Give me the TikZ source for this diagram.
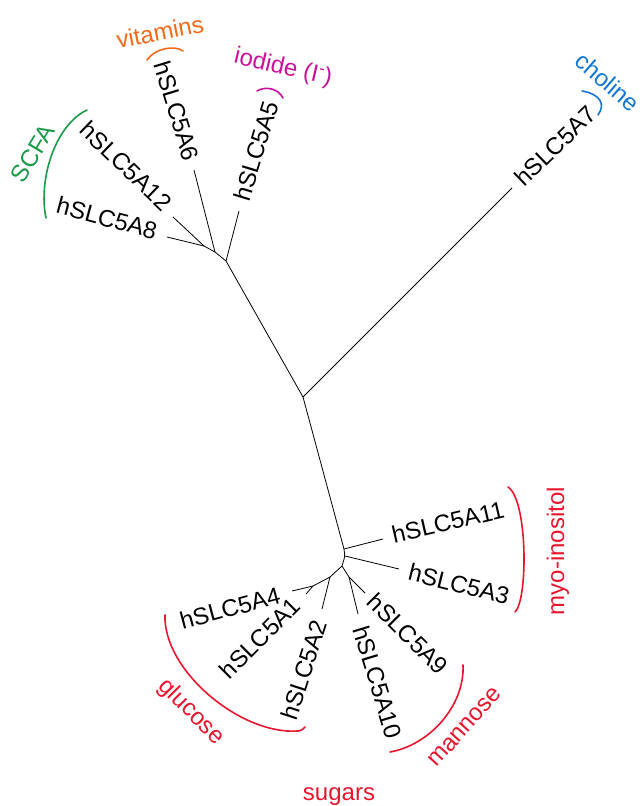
\documentclass[tikz,border=0pt]{standalone}
\usepackage{fontspec}
\setmainfont{Liberation Sans}
\definecolor{cOrange}{HTML}{F26B1D}
\definecolor{cMagenta}{HTML}{C8129B}
\definecolor{cBlue}{HTML}{1677D2}
\definecolor{cGreen}{HTML}{1A9A48}
\definecolor{cRed}{HTML}{E6162E}
\tikzset{
  branch/.style={draw=black, line width=0.8pt, line join=round},
  lbl/.style={font=\fontsize{24}{28}\selectfont, inner sep=0pt, anchor=center},
  grp/.style={font=\fontsize{24}{28}\selectfont, inner sep=0pt, anchor=center},
  brk/.style={line width=1.6pt, line cap=round}
}
\begin{document}
\begin{tikzpicture}[x=1pt,y=-1pt]
\useasboundingbox (0,0) rectangle (644,806);
% tree coordinates
\coordinate (C) at (303,397);
\coordinate (T7) at (512,188);
\coordinate (U) at (226,261);
\coordinate (T5) at (239,211);
\coordinate (N1) at (215,252);
\coordinate (T6) at (194,170);
\coordinate (N2) at (204,246);
\coordinate (T12) at (173,217);
\coordinate (T8) at (167,237);
\coordinate (L1) at (344,549);
\coordinate (T11) at (383,539);
\coordinate (L2) at (345,556);
\coordinate (T3) at (399,569);
\coordinate (L3) at (342,566);
\coordinate (N5) at (349,577);
\coordinate (T9) at (365,593);
\coordinate (T10) at (358,614);
\coordinate (N3) at (330,577);
\coordinate (T2) at (322,609);
\coordinate (N4) at (313,586);
\coordinate (T4) at (292,591);
\coordinate (T1) at (306,594);
% branches
\draw[branch] (C) -- (T7);
\draw[branch] (C) -- (U) -- (N1) -- (N2);
\draw[branch] (U) -- (T5);
\draw[branch] (N1) -- (T6);
\draw[branch] (N2) -- (T12);
\draw[branch] (N2) -- (T8);
\draw[branch, rounded corners=3pt] (C) -- (L1) -- (L2) -- (L3);
\draw[branch] (L1) -- (T11);
\draw[branch] (L2) -- (T3);
\draw[branch] (L3) -- (N5) -- (T10);
\draw[branch] (N5) -- (T9);
\draw[branch] (L3) -- (N3) -- (N4) -- (T4);
\draw[branch] (N3) -- (T2);
\draw[branch] (N4) -- (T1);
% leaf labels
\node[lbl, rotate=44] (A7) at (555,146) {hSLC5A7};
\node[lbl, rotate=73] (A5) at (256,151) {hSLC5A5};
\node[lbl, rotate=-73] (A6) at (177,111) {hSLC5A6};
\node[lbl, rotate=-44] (A12) at (126,166) {hSLC5A12};
\node[lbl, rotate=-15] (A8) at (107,218) {hSLC5A8};
\node[lbl, rotate=13] (A11) at (448,522) {hSLC5A11};
\node[lbl, rotate=-14] (A3) at (459,584) {hSLC5A3};
\node[lbl, rotate=-45] (A9) at (408,634) {hSLC5A9};
\node[lbl, rotate=-73] (A10) at (378,682) {hSLC5A10};
\node[lbl, rotate=72] (A2) at (304,670) {hSLC5A2};
\node[lbl, rotate=45] (A1) at (260,638) {hSLC5A1};
\node[lbl, rotate=15] (A4) at (230,608) {hSLC5A4};
% group labels
\node[grp, text=cOrange, rotate=11] (gvit) at (160,32) {vitamins};
\node[grp, text=cMagenta, rotate=-13] (giod) at (283,68) {iodide (I\textsuperscript{-})};
\node[grp, text=cBlue, rotate=-41] (gcho) at (608,82) {choline};
\node[grp, text=cGreen, rotate=59] (gscfa) at (33,153) {SCFA};
\node[grp, text=cRed, rotate=90] (gmyo) at (558,551) {myo-inositol};
\node[grp, text=cRed, rotate=48] (gman) at (465,727) {mannose};
\node[grp, text=cRed, rotate=-45] (gglu) at (191,712) {glucose};
\node[grp, text=cRed, anchor=base] (gsug) at (339,800) {sugars};
% brackets
\draw[brk, cOrange] (147,60) .. controls (155,48) and (175,45) .. (183,51);
\draw[brk, cMagenta] (257,91) .. controls (265,86) and (278,88) .. (283,98);
\draw[brk, cBlue] (582,91) .. controls (600,94) and (606,104) .. (598,115);
\draw[brk, cGreen] (87,110) .. controls (55,125) and (38,180) .. (46,218);
\draw[brk, cRed] (508,487) .. controls (528,500) and (528,600) .. (515,612);
\draw[brk, cRed] (390,752) .. controls (430,745) and (465,705) .. (463,665);
\draw[brk, cRed] (165,615) .. controls (163,670) and (240,735) .. (298,731) .. controls (302,730) .. (305,727);
\end{tikzpicture}
\end{document}
